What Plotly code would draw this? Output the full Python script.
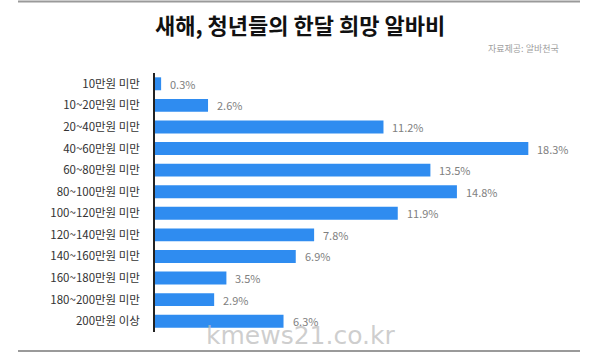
import plotly.graph_objects as go

categories = ["10만원 미만", "10~20만원 미만", "20~40만원 미만", "40~60만원 미만", "60~80만원 미만",
              "80~100만원 미만", "100~120만원 미만", "120~140만원 미만", "140~160만원 미만",
              "160~180만원 미만", "180~200만원 미만", "200만원 이상"]
values = [0.3, 2.6, 11.2, 18.3, 13.5, 14.8, 11.9, 7.8, 6.9, 3.5, 2.9, 6.3]
value_labels = [f"{v}%" for v in values]

W, H = 600, 354
L, R, T, B = 155, 20, 73, 22
pw, ph = W - L - R, H - T - B

def px(x):
    return (x - L) / pw

def py(y):
    return 1 - (y - T) / ph

FONT = "Noto Sans CJK KR"
BAR = "#2f8cf0"

fig = go.Figure(go.Bar(
    x=values, y=categories, orientation="h",
    marker=dict(color=BAR, line=dict(width=0)),
    width=0.6, hoverinfo="skip",
))

for c, v, t in zip(categories, values, value_labels):
    fig.add_annotation(x=v, y=c, text=t, showarrow=False, xanchor="left", xshift=7,
                       font=dict(family=FONT, size=11, color="#808080"))

fig.add_annotation(x=px(300), y=py(24), xref="paper", yref="paper", xanchor="center", yanchor="middle",
                   text="<b>새해, 청년들의 한달 희망 알바비</b>", showarrow=False,
                   font=dict(family=FONT, size=22, color="#111111"))
fig.add_annotation(x=px(561), y=py(49), xref="paper", yref="paper", xanchor="right", yanchor="middle",
                   text="자료제공: 알바천국", showarrow=False,
                   font=dict(family=FONT, size=9, color="#a0a0a0"))
fig.add_annotation(x=px(300), y=py(335), xref="paper", yref="paper", xanchor="center", yanchor="middle",
                   text="kmews21.co.kr", showarrow=False,
                   font=dict(family="DejaVu Sans", size=25, color="rgba(190,190,190,0.75)"))

for y in (1.5, 351):
    fig.add_shape(type="line", xref="paper", yref="paper",
                  x0=px(18), x1=px(580), y0=py(y), y1=py(y),
                  line=dict(color="#9a9a9a", width=2))

fig.update_layout(
    width=W, height=H, margin=dict(l=L, r=R, t=T, b=B),
    paper_bgcolor="white", plot_bgcolor="white", showlegend=False,
    bargap=0.4,
    xaxis=dict(range=[0, pw / 20.4], visible=False, fixedrange=True),
    yaxis=dict(autorange="reversed", showline=True, linecolor="#222222", linewidth=1.5,
               ticks="", showgrid=False, ticklabelstandoff=11,
               tickfont=dict(family=FONT, size=11.5, color="#333333")),
)

fig.write_html("out.html")
